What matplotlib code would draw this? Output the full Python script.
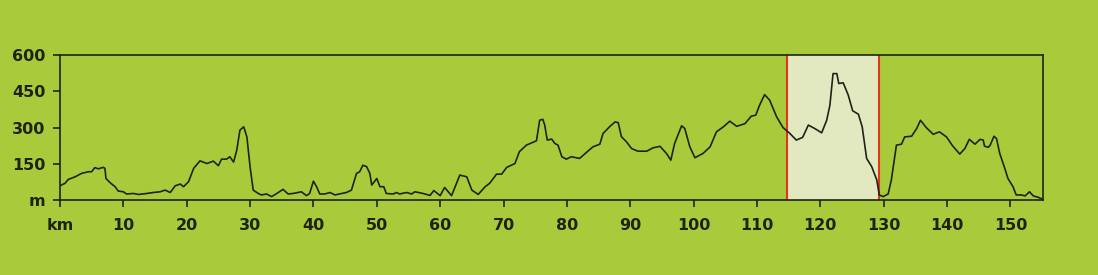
import numpy as np
import matplotlib.pyplot as plt

# elevation profile (km, m)
km = [0, 0.8, 1.3, 2.4, 3.4, 4.5, 5.0, 5.5, 6.05, 6.8, 7.1, 7.26, 7.9, 8.7, 9.2, 10, 10.5,
      11.6, 12.4, 13.7, 14.7, 15.8, 16.6, 17.4, 18.2, 19, 19.5, 20.3, 21.1, 22.1, 23.2, 24.2,
      25, 25.5, 26.3, 26.8, 27.4, 27.9, 28.4, 29, 29.5, 30, 30.5, 31.3, 31.8, 32.6, 33.4, 34.1,
      35.2, 36, 36.8, 38.1, 38.9, 39.4, 40, 40.5, 41, 41.8, 42.6, 43.4, 45.2, 46, 46.8, 47.3,
      47.8, 48.4, 48.9, 49.2, 50, 50.5, 51.1, 51.5, 52.6, 53.1, 53.6, 54.7, 55.5, 56, 57.3,
      58.4, 59, 60, 60.7, 61.8, 63.1, 64.2, 65, 66, 67.1, 67.8, 68.9, 69.7, 70.5, 71.8, 72.5,
      73.6, 75.2, 75.7, 76.2, 76.5, 76.9, 77.6, 78.1, 78.6, 79.2, 79.9, 80.7, 82, 83.1, 84.1,
      85.2, 85.7, 86.8, 87.6, 88.1, 88.6, 89.4, 90.2, 91.2, 92.6, 93.6, 94.7, 95.7, 96.4, 97,
      98.1, 98.6, 99.4, 100.2, 101.5, 102.6, 103.6, 104.7, 105.7, 106.8, 108.1, 109.1, 109.8,
      110.4, 111.2, 112, 113.1, 114.1, 115.2, 116.2, 117.2, 118.1, 119.1, 120.2, 121, 121.5,
      122, 122.6, 122.9, 123.6, 124.4, 125.1, 126, 126.6, 127.3, 128.1, 128.9, 129.3, 129.9,
      130.7, 131.2, 132, 132.8, 133.3, 134.4, 135.2, 135.8, 136.7, 137.8, 138.8, 139.9, 140.9,
      142, 142.8, 143.5, 144.4, 145.2, 145.7, 145.9, 146.5, 146.8, 147.4, 147.8, 148.3, 149.1,
      149.6, 150.4, 150.9, 151.7, 152.3, 153, 153.6, 154.4, 155.1]
elev = [59, 69, 85, 96, 110, 117, 117, 134, 129, 135, 131, 89, 72, 55, 37, 34, 25,
        27, 23, 27, 31, 34, 41, 31, 59, 66, 55, 76, 131, 162, 151, 161,
        142, 169, 169, 179, 157, 206, 289, 303, 261, 138, 41, 27, 21, 25, 14, 25,
        44, 25, 27, 34, 18, 27, 78, 55, 25, 25, 31, 21, 31, 41, 110, 117,
        144, 138, 110, 62, 89, 55, 55, 27, 25, 31, 25, 31, 25, 34, 27,
        19, 39, 18, 52, 18, 103, 96, 41, 23, 55, 69, 107, 107, 135, 151, 200,
        227, 245, 330, 334, 310, 248, 252, 234, 227, 179, 169, 179, 172, 197, 220,
        231, 275, 305, 323, 320, 262, 241, 213, 202, 202, 216, 222, 193, 165, 234,
        307, 296, 220, 175, 193, 220, 282, 303, 326, 305, 316, 347, 351,
        392, 436, 413, 344, 300, 275, 248, 259, 310, 296, 278, 330, 392,
        523, 523, 482, 485, 434, 369, 355, 303, 172, 138, 83, 21, 14,
        25, 83, 227, 231, 261, 264, 296, 330, 300, 272, 282, 261, 223,
        190, 213, 251, 231, 251, 248, 223, 218, 227, 264, 254, 193, 131,
        89, 55, 21, 21, 17, 34, 17, 11, 3]

climb_start, climb_end = 114.7, 129.2
xticks = list(range(0, 151, 10))
xlabels = ['km'] + [str(t) for t in xticks[1:]]
yticks = [0, 150, 300, 450, 600]
ylabels = ['m', '150', '300', '450', '600']

bg = '#a9cb3b'
ink = '#1e2414'

plt.rcParams['font.family'] = ['DejaVu Sans']

fig = plt.figure(figsize=(10.98, 2.75), dpi=100, facecolor=bg)
ax = fig.add_axes([0.0546, 0.2727, 0.8957, 0.5273])
ax.set_facecolor(bg)

ax.axvspan(climb_start, climb_end, color='#e2e9c0', zorder=1, lw=0)
ax.axvline(climb_start, color='#e3341c', lw=1.5, zorder=2)
ax.axvline(climb_end, color='#e3341c', lw=1.5, zorder=2)
ax.plot(km, elev, color=ink, lw=1.2, zorder=3, solid_joinstyle='round')

ax.set_xlim(0, 155.2)
ax.set_ylim(0, 600)
ax.set_xticks(xticks)
ax.set_xticklabels(xlabels)
ax.set_yticks(yticks)
ax.set_yticklabels(ylabels)
for s in ax.spines.values():
    s.set_color(ink)
    s.set_linewidth(1.2)
ax.tick_params(colors=ink, length=5, width=1.2, labelsize=11.5)
ax.tick_params(axis='y', pad=5.5)
ax.tick_params(axis='x', pad=8)
for lab in ax.get_xticklabels() + ax.get_yticklabels():
    lab.set_fontweight('bold')

fig.savefig('out.png', dpi=100, facecolor=bg)
